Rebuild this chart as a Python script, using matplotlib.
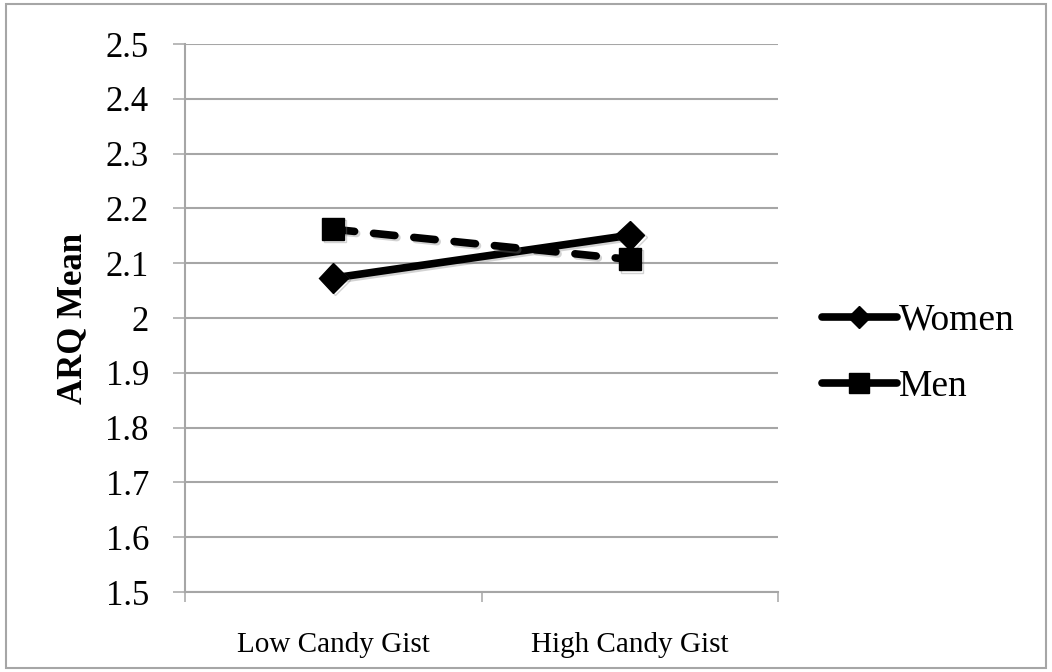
import matplotlib
matplotlib.use("Agg")
import matplotlib.pyplot as plt
import matplotlib.patheffects as pe
from matplotlib.lines import Line2D
from matplotlib.patches import Rectangle

conditions = ["Low Candy Gist", "High Candy Gist"]
women = [2.073, 2.151]
men = [2.162, 2.107]
y_ticks = [1.5, 1.6, 1.7, 1.8, 1.9, 2.0, 2.1, 2.2, 2.3, 2.4, 2.5]
y_labels = ["1.5", "1.6", "1.7", "1.8", "1.9", "2", "2.1", "2.2", "2.3", "2.4", "2.5"]

plt.rcParams["font.family"] = ["Liberation Serif", "DejaVu Serif"]
grey = "#a6a6a6"

fig = plt.figure(figsize=(10.52, 6.72), dpi=100)
ax = fig.add_axes([0.1759, 0.119, 0.5636, 0.8155])

# chart frame around the whole figure
fig.patches.append(Rectangle((0.006, 0.006), 0.988, 0.988, transform=fig.transFigure,
                             fill=False, edgecolor=grey, linewidth=1.5))

shadow = [pe.SimpleLineShadow(offset=(1.5, -1.5), shadow_color="grey", alpha=0.35), pe.Normal()]

x = range(len(conditions))
ax.plot(x, women, color="black", linewidth=5.5, marker="D", markersize=15,
        solid_capstyle="round", zorder=3, path_effects=shadow)
ax.plot(x, men, color="black", linewidth=5.5, linestyle=(0, (2.8, 2.5)), marker="s",
        markersize=16, dash_capstyle="round", zorder=3, path_effects=shadow)

ax.set_ylim(1.5, 2.5)
ax.set_yticks(y_ticks)
ax.set_yticklabels(y_labels, fontsize=25)
ax.yaxis.grid(True, color=grey, linewidth=1.5)
ax.set_axisbelow(True)

ax.set_xlim(-0.5, 1.5)
ax.set_xticks([-0.5, 0.5, 1.5])
ax.set_xticklabels([])
ax.set_xticks(list(x), minor=True)
ax.set_xticklabels(conditions, minor=True, fontsize=21)
ax.tick_params(axis="x", which="minor", length=0, pad=29)
ax.tick_params(axis="x", which="major", length=7, width=1.1, color=grey, direction="out")
ax.tick_params(axis="y", length=9, width=1.1, color=grey, pad=17)

for side in ["top", "right"]:
    ax.spines[side].set_visible(False)
for side in ["left", "bottom"]:
    ax.spines[side].set_color(grey)
    ax.spines[side].set_linewidth(1.5)

ax.set_ylabel("ARQ Mean", fontsize=25, fontweight="bold", labelpad=12)

handles = [
    Line2D([], [], color="black", linewidth=5.5, marker="D", markersize=11, solid_capstyle="round"),
    Line2D([], [], color="black", linewidth=5.5, marker="s", markersize=15, solid_capstyle="round"),
]
ax.legend(handles, ["Women", "Men"], loc="center left", bbox_to_anchor=(1.074, 0.435),
          frameon=False, fontsize=27, handlelength=2.0, handletextpad=0.05,
          labelspacing=0.85, borderpad=0, borderaxespad=0)

fig.savefig("out.png", dpi=100)
